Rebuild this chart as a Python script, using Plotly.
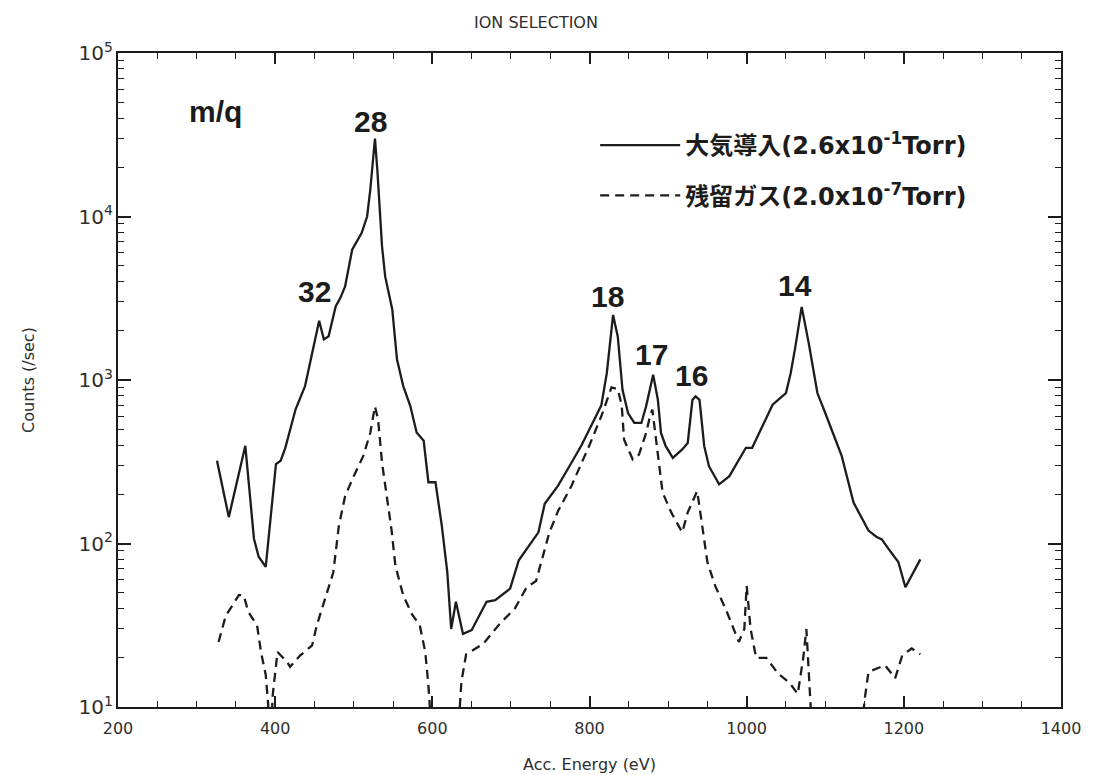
import plotly.graph_objects as go

# ---- data ----
solid_energy = [326, 341, 362, 373, 379, 388, 401, 407, 413, 426, 438, 449, 456, 462, 468, 477, 483, 489,
                498, 510, 517, 521, 527, 530, 536, 540, 549, 555, 563, 572, 580, 589, 595, 604, 612, 619,
                624, 630, 639, 650, 669, 680, 699, 710, 720, 735, 743, 760, 775, 790, 805, 815, 822, 830,
                836, 842, 849, 857, 866, 872, 881, 887, 891, 897, 906, 918, 925, 931, 935, 940, 946, 952,
                965, 978, 999, 1007, 1020, 1033, 1050, 1056, 1062, 1070, 1079, 1090, 1100, 1121, 1136,
                1155, 1165, 1172, 1181, 1193, 1202, 1221]
solid_counts = [321, 145, 396, 107, 83, 72, 306, 321, 386, 662, 918, 1610, 2300, 1770, 1850, 2820, 3180, 3740,
                6270, 7910, 10000, 14500, 30000, 19300, 6560, 4300, 2700, 1340, 918, 693, 477, 425, 237, 237,
                129, 67, 30, 44, 28, 29.5, 44, 45, 53, 79, 93, 117, 175, 226, 300, 400, 560, 700, 1100, 2500,
                1840, 871, 628, 546, 546, 690, 1077, 757, 474, 394, 334, 376, 412, 757, 794, 757, 394, 297,
                230, 258, 385, 385, 521, 706, 832, 1100, 1600, 2800, 1676, 832, 628, 342, 178,
                120, 110, 106, 92, 77, 54, 80]

dashed_energy = [328, 337, 354, 360, 366, 377, 382, 388, 391, 394, 397, 403, 415, 419, 432, 447, 453, 464,
                 474, 481, 489, 500, 512, 521, 527, 531, 536, 542, 548, 553, 563, 574, 584, 591, 595, 600,
                 632, 637, 643, 665, 686, 705, 720, 732, 741, 749, 760, 777, 800, 815, 828, 836, 841, 844,
                 855, 863, 872, 878, 880, 885, 889, 893, 904, 918, 925, 937, 941, 946, 950, 960, 975, 990,
                 997, 1000, 1005, 1012, 1025, 1040, 1055, 1065, 1072, 1076, 1080, 1084, 1145, 1150, 1155,
                 1176, 1189, 1198, 1210, 1221]
dashed_counts = [25, 36, 48.5, 48, 38, 31.5, 21.7, 15.7, 10.5, 6, 12, 21.7, 18.9, 17.6, 20.7, 23.8, 31.6, 46,
                 66.7, 128, 195, 258, 342, 474, 690, 573, 311, 195, 122, 73, 48, 37, 31.6, 21.7, 13.6, 6,
                 6, 14.3, 21, 24.4, 32.4, 40, 54, 59, 84, 117, 158, 225, 400, 600, 900, 880, 700, 432,
                 327, 350, 474, 628, 658, 432, 297, 205, 155, 117, 155, 209, 155, 106, 77, 55, 38, 25,
                 30, 55, 30, 20, 20, 16, 14, 12, 20, 30, 12, 6, 6, 11, 16.4,
                 18, 15, 20.7, 22.8, 21]

series_names = ["大気導入(2.6x10<sup>-1</sup>Torr)", "残留ガス(2.0x10<sup>-7</sup>Torr)"]

peak_labels = ["28", "32", "18", "17", "16", "14"]
peak_label_x = [521, 450, 823, 879, 930, 1062]
peak_label_logy = [4.58, 3.54, 3.51, 3.155, 3.027, 3.58]

INK = "#1c1c1c"
TXT = "#2e2e2e"

fig = go.Figure()
fig.add_trace(go.Scatter(x=solid_energy, y=solid_counts, mode="lines", name=series_names[0],
                         legendgroup="a", line=dict(color=INK, width=2.3)))
fig.add_trace(go.Scatter(x=dashed_energy, y=dashed_counts, mode="lines", name=series_names[1],
                         legendgroup="b", line=dict(color=INK, width=2.3, dash="9px,6px")))

label_font = dict(family="Liberation Sans, Arial", size=30, color=INK, weight="bold")
for t, x, ly in zip(peak_labels, peak_label_x, peak_label_logy):
    fig.add_annotation(x=x, y=ly, text=t, showarrow=False, font=label_font,
                       xanchor="center", yanchor="middle")
fig.add_annotation(x=324, y=4.64, text="m/q", showarrow=False, font=label_font,
                   xanchor="center", yanchor="middle")

tick_font = dict(family="DejaVu Sans", size=16, color=TXT)
title_font = dict(family="DejaVu Sans", size=16, color=TXT)

fig.update_xaxes(range=[200, 1400], tickmode="linear", tick0=0, dtick=200, ticklen=11,
                 ticklabelstandoff=6, ticks="inside", tickcolor=INK, tickwidth=1.6,
                 minor=dict(dtick=50, ticks="inside", ticklen=6, tickcolor=INK, tickwidth=1.4),
                 showline=True, linecolor=INK, linewidth=2, mirror="ticks", showgrid=False,
                 zeroline=False, tickfont=tick_font,
                 title=dict(text="Acc. Energy (eV)", font=title_font, standoff=22))

fig.update_yaxes(type="log", range=[1, 5], tickmode="linear", tick0=0, dtick=1, ticklen=13,
                 exponentformat="power", showexponent="all", labelalias={"10": "10<sup>1</sup>"},
                 ticks="inside", tickcolor=INK, tickwidth=1.6, tickfont=tick_font,
                 minor=dict(dtick="D1", ticks="inside", ticklen=6, tickcolor=INK, tickwidth=1.4),
                 showline=True, linecolor=INK, linewidth=2, mirror="ticks", showgrid=False,
                 zeroline=False,
                 title=dict(text="Counts (/sec)", font=title_font, standoff=40))

fig.update_layout(
    width=1100, height=775,
    margin=dict(l=110, r=47, t=45, b=73),
    paper_bgcolor="white", plot_bgcolor="white",
    title=dict(text="ION SELECTION", x=0.48, xanchor="center", y=0.982, yanchor="middle",
               font=dict(family="DejaVu Sans", size=16, color=TXT)),
    showlegend=True,
    legend=dict(x=0.506, y=0.893, xanchor="left", yanchor="top", bgcolor="rgba(0,0,0,0)",
                tracegroupgap=16, itemwidth=80,
                font=dict(family="DejaVu Sans, Noto Sans CJK JP", size=24, color=INK, weight="bold")),
)

fig.write_html("out.html")
